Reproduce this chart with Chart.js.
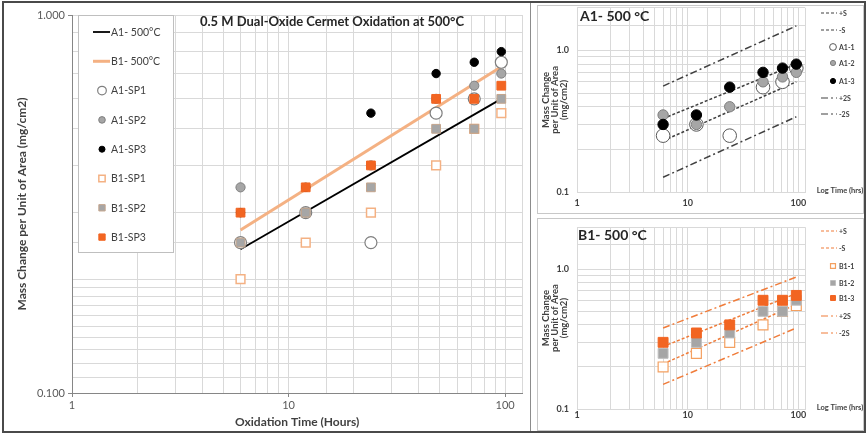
<!DOCTYPE html>
<html>
<head>
<meta charset="utf-8">
<script src="https://cdn.jsdelivr.net/npm/chart.js@4.4.0/dist/chart.umd.min.js"></script>
<style>
html, body { margin: 0; padding: 0; background: #fff; }
body { width: 867px; height: 434px; position: relative; overflow: hidden; font-family: Lato, sans-serif; }
.frame { position: absolute; left: 2px; top: 1px; width: 864px; height: 432px; box-sizing: border-box; border: 2px solid #4a4a4a; }
.sep { position: absolute; left: 530px; top: 3px; width: 1px; height: 428px; background: #8c8c8c; }
.panel { position: absolute; box-sizing: border-box; border: 1px solid #c8c8c8; }
.box { position: absolute; }
</style>
</head>
<body>
<div class="frame"></div>
<div class="sep"></div>
<div class="panel" style="left:537px;top:5px;width:327px;height:209px"></div>
<div class="panel" style="left:537px;top:218px;width:327px;height:213px"></div>
<div class="box" style="left:4px;top:4px;width:526px;height:427px"><canvas id="main"></canvas></div>
<div class="box" style="left:538px;top:0px;width:326px;height:212px"><canvas id="a1"></canvas></div>
<div class="box" style="left:538px;top:219px;width:326px;height:213px"><canvas id="b1"></canvas></div>
<script>
// Oxidation times (hours)
const hours = [6, 12, 24, 48, 72, 96];

// Mass change per unit area (mg/cm2)
const a1Sp1 = [0.25, 0.30, 0.25, 0.55, 0.60, 0.75];
const a1Sp2 = [0.35, 0.30, 0.40, 0.60, 0.65, 0.70];
const a1Sp3 = [0.30, 0.35, 0.55, 0.70, 0.75, 0.80];
const b1Sp1 = [0.20, 0.25, 0.30, 0.40, 0.50, 0.55];
const b1Sp2 = [0.25, 0.30, 0.35, 0.50, 0.50, 0.60];
const b1Sp3 = [0.30, 0.35, 0.40, 0.60, 0.60, 0.65];

// fitted power-law lines (end points at 6 h and 96 h)
const fitHours = [6, 96];
const a1Fit = [0.24, 0.60];
const b1Fit = [0.27, 0.73];

// scatter bands of the small panels
const a1PlusS = [0.33, 0.80];
const a1MinusS = [0.23, 0.60];
const a1Plus2S = [0.56, 1.49];
const a1Minus2S = [0.127, 0.34];
const b1PlusS = [0.28, 0.67];
const b1MinusS = [0.21, 0.56];
const b1Plus2S = [0.38, 0.88];
const b1Minus2S = [0.15, 0.38];

// labelled ticks
const xTickValues = [1, 10, 100];
const xTickLabels = ['1', '10', '100'];
const yTickValues = [0.1, 1];
const mainYTickLabels = ['0.100', '1.000'];
const smallYTickLabels = ['0.1', '1.0'];

const FONT = 'Lato';

function pts(xs, ys) {
    return xs.map((x, i) => ({ x: x, y: ys[i] }));
}

function labelFor(values, labels) {
    return v => {
        const i = values.findIndex(t => Math.abs(t - v) / t < 1e-6);
        return i >= 0 ? labels[i] : '';
    };
}

const isPow10 = v => Math.abs(Math.log10(v) - Math.round(Math.log10(v))) < 1e-6;

function lineDs(label, xs, ys, color, width, dash) {
    return {
        label: label, data: pts(xs, ys), showLine: true, pointRadius: 0,
        borderColor: color, borderWidth: width, borderDash: dash, fill: false
    };
}

function pointDs(label, xs, ys, style, r, fill, stroke, bw) {
    return {
        label: label, data: pts(xs, ys), showLine: false, pointStyle: style,
        pointRadius: r, pointBackgroundColor: fill, pointBorderColor: stroke, pointBorderWidth: bw
    };
}

// later series are drawn on top, like in the spreadsheet
function stack(list) {
    return list.map((d, i) => Object.assign(d, { order: list.length - i }));
}

function marker(ctx, style, x, y, r) {
    ctx.beginPath();
    if (style === 'rect') {
        const s = r * Math.SQRT2;
        ctx.rect(x - s / 2, y - s / 2, s, s);
    } else {
        ctx.arc(x, y, r, 0, Math.PI * 2);
    }
    ctx.fill();
    ctx.stroke();
}

// legend + free text drawn inside the canvas
const decor = {
    id: 'decor',
    afterDraw(chart, args, o) {
        const ctx = chart.ctx;
        ctx.save();
        if (o.box) {
            ctx.fillStyle = '#ffffff';
            ctx.strokeStyle = '#bfbfbf';
            ctx.lineWidth = 1;
            ctx.fillRect(o.box.x, o.box.y, o.box.w, o.box.h);
            ctx.strokeRect(o.box.x + 0.5, o.box.y + 0.5, o.box.w, o.box.h);
        }
        const lg = o.legend;
        if (lg) {
            lg.rows.forEach((y, i) => {
                const ds = chart.data.datasets[lg.order[i]];
                if (ds.showLine) {
                    ctx.setLineDash(ds.borderDash || []);
                    ctx.strokeStyle = ds.borderColor;
                    ctx.lineWidth = Math.min(ds.borderWidth, lg.maxLine);
                    ctx.beginPath();
                    ctx.moveTo(lg.x0, y);
                    ctx.lineTo(lg.x1, y);
                    ctx.stroke();
                    ctx.setLineDash([]);
                } else {
                    ctx.fillStyle = ds.pointBackgroundColor;
                    ctx.strokeStyle = ds.pointBorderColor;
                    ctx.lineWidth = ds.pointBorderWidth;
                    marker(ctx, ds.pointStyle, lg.mx, y, ds.pointRadius * lg.scale);
                }
                ctx.fillStyle = lg.color;
                ctx.font = lg.font;
                ctx.textAlign = 'left';
                ctx.textBaseline = 'middle';
                ctx.fillText(ds.label, lg.tx, y + 0.5);
            });
        }
        (o.texts || []).forEach(t => {
            ctx.fillStyle = t.color;
            ctx.font = t.font;
            ctx.textAlign = t.align || 'left';
            ctx.textBaseline = 'middle';
            ctx.fillText(t.text, t.x, t.y);
        });
        ctx.restore();
    }
};

// ---- main chart ----
new Chart(document.getElementById('main'), {
    type: 'scatter',
    data: {
        datasets: stack([
            lineDs('A1- 500°C', fitHours, a1Fit, '#000000', 1.8, []),
            lineDs('B1- 500°C', fitHours, b1Fit, '#f4b183', 3, []),
            pointDs('A1-SP1', hours, a1Sp1, 'circle', 6, '#ffffff', '#7f7f7f', 1.2),
            pointDs('A1-SP2', hours, a1Sp2, 'circle', 4.6, '#a6a6a6', '#808080', 1),
            pointDs('A1-SP3', hours, a1Sp3, 'circle', 4.2, '#000000', '#000000', 1),
            pointDs('B1-SP1', hours, b1Sp1, 'rect', 6.2, '#ffffff', '#f4b183', 1.5),
            pointDs('B1-SP2', hours, b1Sp2, 'rect', 6.2, '#a6a6a6', '#c4a58c', 1),
            pointDs('B1-SP3', hours, b1Sp3, 'rect', 6.2, '#f26522', '#f26522', 1)
        ])
    },
    options: {
        responsive: true,
        maintainAspectRatio: false,
        animation: false,
        devicePixelRatio: 1,
        events: [],
        layout: { padding: { left: 7, right: 7, top: 11, bottom: 0 } },
        plugins: {
            legend: { display: false },
            tooltip: { enabled: false },
            decor: {
                box: { x: 74, y: 11, w: 95, h: 237 },
                legend: {
                    order: [0, 1, 2, 3, 4, 5, 6, 7],
                    rows: [28, 57.3, 86.6, 115.9, 145.2, 174.5, 203.8, 233.1],
                    x0: 89, x1: 106, mx: 98, tx: 107, scale: 0.72, maxLine: 3,
                    font: '10.5px ' + FONT, color: '#404040'
                },
                texts: [
                    { text: '0.5 M Dual-Oxide Cermet Oxidation at 500°C', x: 328, y: 18, align: 'center',
                      font: 'bold 13px ' + FONT, color: '#262626' }
                ]
            }
        },
        scales: {
            x: {
                type: 'logarithmic', min: 1, max: 120,
                afterFit: s => { s.height = 38; },
                grid: { color: '#d9d9d9', tickLength: 4,
                        tickColor: c => (c.tick && isPow10(c.tick.value) ? '#868686' : 'rgba(0,0,0,0)') },
                border: { color: '#868686' },
                ticks: { autoSkip: false, maxRotation: 0, padding: 2, color: '#595959',
                         font: { family: FONT, size: 11 }, callback: labelFor(xTickValues, xTickLabels) },
                title: { display: true, text: 'Oxidation Time (Hours)', color: '#404040',
                         font: { family: FONT, size: 12, weight: 'bold' }, padding: { top: 0, bottom: 2 } }
            },
            y: {
                type: 'logarithmic', min: 0.1, max: 1,
                afterFit: s => { s.width = 61; },
                grid: { color: '#d9d9d9', tickLength: 4,
                        tickColor: c => (c.tick && isPow10(c.tick.value) ? '#868686' : 'rgba(0,0,0,0)') },
                border: { color: '#868686' },
                ticks: { autoSkip: false, padding: 3, color: '#595959',
                         font: { family: FONT, size: 11 }, callback: labelFor(yTickValues, mainYTickLabels) },
                title: { display: true, text: 'Mass Change per Unit of Area (mg/cm2)', color: '#404040',
                         font: { family: FONT, size: 12, weight: 'bold' }, padding: { top: 4, bottom: 0 } }
            }
        }
    },
    plugins: [decor]
});

// ---- small panels ----
function smallChart(id, name, datasets, pad, xPad, xHeight, legendRows, logY, nameX, nameY) {
    new Chart(document.getElementById(id), {
        type: 'scatter',
        data: { datasets: stack(datasets) },
        options: {
            responsive: true,
            maintainAspectRatio: false,
            animation: false,
            devicePixelRatio: 1,
            events: [],
            layout: { padding: pad },
            plugins: {
                legend: { display: false },
                tooltip: { enabled: false },
                decor: {
                    legend: {
                        order: [0, 1, 2, 3, 4, 5, 6],
                        rows: legendRows,
                        x0: 283, x1: 299, mx: 295, tx: 301, scale: 0.5, maxLine: 1.2,
                        font: 'bold 7px ' + FONT, color: '#404040'
                    },
                    texts: [
                        { text: name, x: nameX, y: nameY, font: 'bold 14px ' + FONT, color: '#262626' },
                        { text: 'Log Time (hrs)', x: 302, y: logY, align: 'center', font: 'bold 7.5px ' + FONT, color: '#404040' }
                    ]
                }
            },
            scales: {
                x: {
                    type: 'logarithmic', min: 1, max: 115,
                    afterFit: s => { s.height = xHeight; },
                    grid: { color: '#d9d9d9', drawTicks: false },
                    border: { color: '#d9d9d9' },
                    ticks: { autoSkip: false, maxRotation: 0, padding: xPad, color: '#404040',
                             font: { family: FONT, size: 9, weight: 'bold' }, callback: labelFor(xTickValues, xTickLabels) }
                },
                y: {
                    type: 'logarithmic', min: 0.1, max: 2,
                    afterFit: s => { s.width = 36; },
                    // invisible tick marks push the labels off the axis without padding the plot top
                    grid: { color: '#d9d9d9', drawTicks: true, tickLength: 8, tickColor: 'rgba(0,0,0,0)' },
                    border: { color: '#d9d9d9' },
                    ticks: { autoSkip: false, padding: 0, color: '#404040',
                             font: { family: FONT, size: 9, weight: 'bold', lineHeight: 0.6 },
                             callback: labelFor(yTickValues, smallYTickLabels) },
                    title: { display: true, text: ['Mass Change', 'per Unit of Area', '(mg/cm2)'], color: '#404040',
                             font: { family: FONT, size: 9.5, weight: 'bold', lineHeight: 0.95 }, padding: { top: 0, bottom: 0 } }
                }
            }
        },
        plugins: [decor]
    });
}

const grey = '#404040';
const orange = '#f07c3a';

smallChart('a1', 'A1- 500 °C', [
    lineDs('+S', fitHours, a1PlusS, grey, 1.5, [3, 2]),
    lineDs('-S', fitHours, a1MinusS, grey, 1.5, [3, 2]),
    pointDs('A1-1', hours, a1Sp1, 'circle', 6.8, '#ffffff', '#595959', 1),
    pointDs('A1-2', hours, a1Sp2, 'circle', 5.2, '#a6a6a6', '#7f7f7f', 1),
    pointDs('A1-3', hours, a1Sp3, 'circle', 5.2, '#000000', '#000000', 1),
    lineDs('+2S', fitHours, a1Plus2S, grey, 1.5, [7, 3, 2, 3]),
    lineDs('-2S', fitHours, a1Minus2S, grey, 1.5, [7, 3, 2, 3])
], { left: 3, right: 59, top: 5, bottom: 0 }, 6, 20,
   [13, 30, 47, 63, 81, 98, 114], 191, 42, 16);

smallChart('b1', 'B1- 500 °C', [
    lineDs('+S', fitHours, b1PlusS, orange, 1.5, [3, 2]),
    lineDs('-S', fitHours, b1MinusS, orange, 1.5, [3, 2]),
    pointDs('B1-1', hours, b1Sp1, 'rect', 7, '#ffffff', '#f4a060', 1.2),
    pointDs('B1-2', hours, b1Sp2, 'rect', 7, '#a6a6a6', '#bfbfbf', 1),
    pointDs('B1-3', hours, b1Sp3, 'rect', 7, '#f26522', '#f26522', 1),
    lineDs('+2S', fitHours, b1Plus2S, orange, 1.5, [7, 3, 2, 3]),
    lineDs('-2S', fitHours, b1Minus2S, orange, 1.5, [7, 3, 2, 3])
], { left: 3, right: 59, top: 5, bottom: 0 }, 1, 23,
   [12, 29, 47, 64, 79, 97, 114], 189, 40, 16);
</script>
</body>
</html>
